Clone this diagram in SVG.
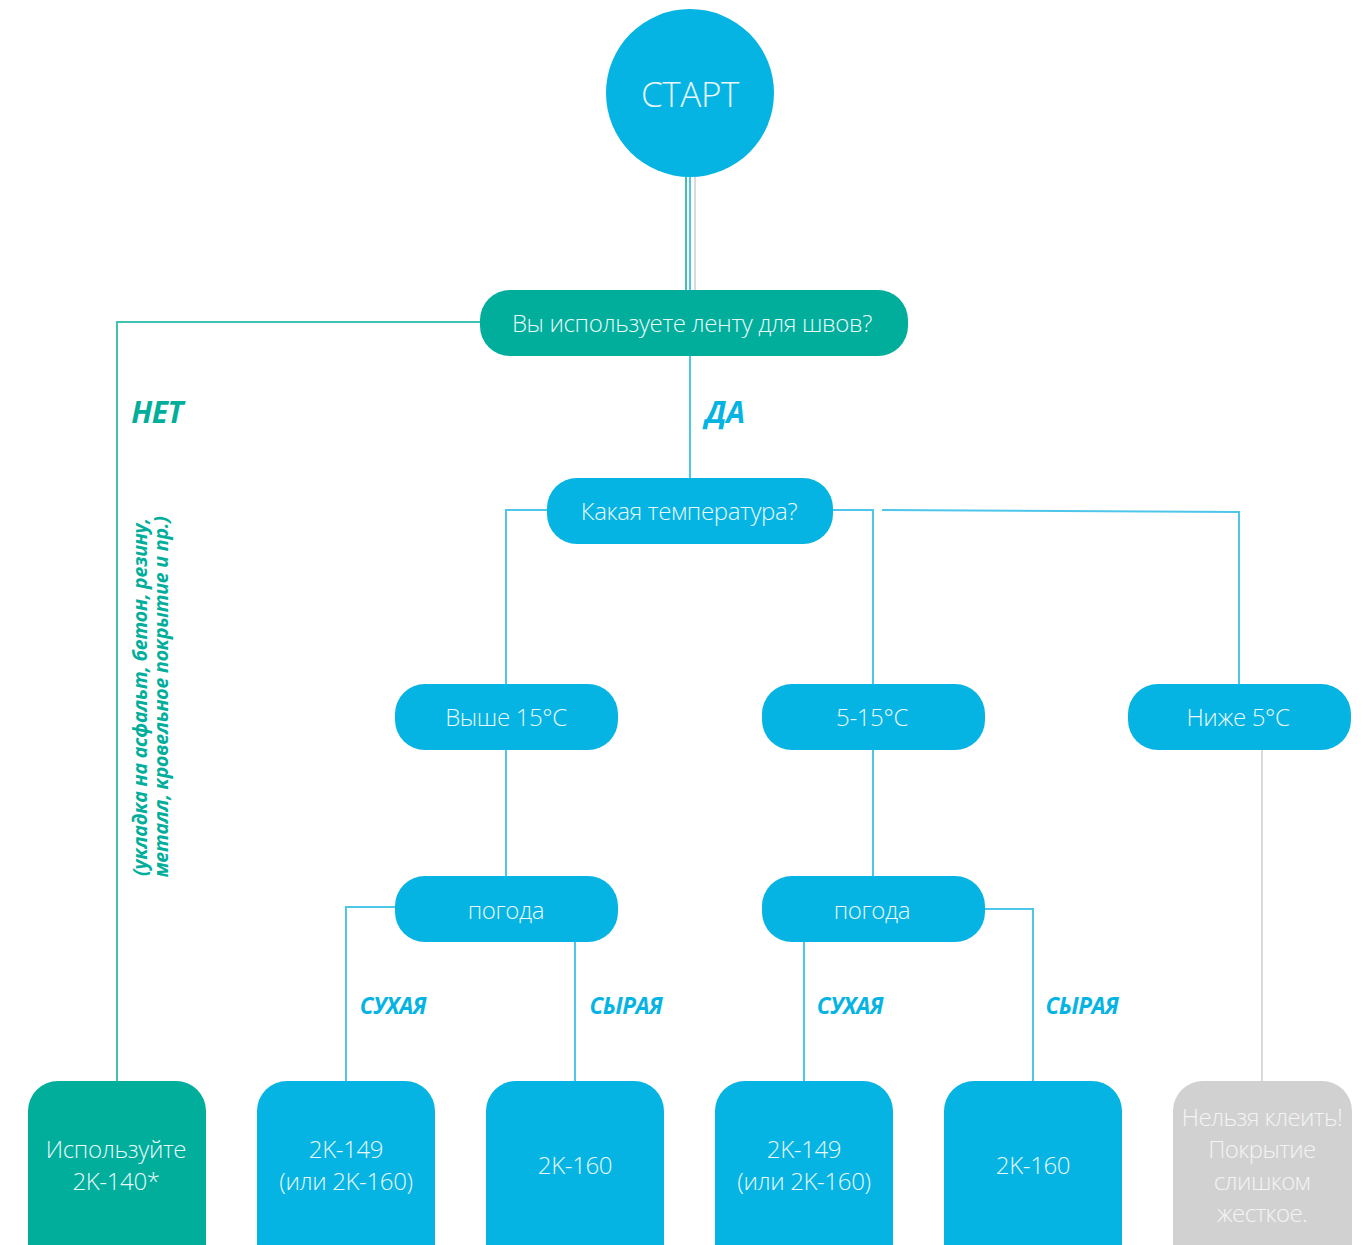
<svg xmlns="http://www.w3.org/2000/svg" width="1363" height="1245" viewBox="0 0 1363 1245">
<style>
.blue{fill:#05b4e3}
.teal{fill:#00ae9b}
.gray{fill:#d1d1d1}
.t{font-family:"Open Sans","Liberation Sans",sans-serif;font-weight:300;fill:#eaf8fc;text-anchor:middle;letter-spacing:-0.35px}
.tg{font-family:"Open Sans","Liberation Sans",sans-serif;font-weight:300;fill:#f4f4f4;text-anchor:middle;letter-spacing:-0.6px}
.lb{font-family:"Open Sans","Liberation Sans",sans-serif;font-weight:700;font-style:italic}
.cb{fill:none;stroke:#4ec6ea;stroke-width:2}
.ct{fill:none;stroke:#3fc2b2;stroke-width:2}
.cg{fill:none;stroke:#dadada;stroke-width:2}
</style>
<rect width="1363" height="1245" fill="#ffffff"/>
<g id="connectors">
<line class="ct" x1="686" y1="176" x2="686" y2="290"/>
<line class="cb" x1="690" y1="176" x2="690" y2="290"/>
<line class="cg" x1="695" y1="176" x2="695" y2="290"/>
<polyline class="ct" points="481,322 117,322 117,1081"/>
<line class="cb" x1="690" y1="355" x2="690" y2="479"/>
<polyline class="cb" points="548,510 506,510 506,685"/>
<polyline class="cb" points="831,510 873,510 873,685"/>
<polyline class="cb" points="882,510 1239,512 1239,685"/>
<line class="cb" x1="506" y1="749" x2="506" y2="877"/>
<line class="cb" x1="873" y1="749" x2="873" y2="877"/>
<line class="cg" x1="1262" y1="749" x2="1262" y2="1081"/>
<polyline class="cb" points="396,907 346,907 346,1081"/>
<line class="cb" x1="575" y1="941" x2="575" y2="1081"/>
<line class="cb" x1="804" y1="941" x2="804" y2="1081"/>
<polyline class="cb" points="983,909 1033,909 1033,1081"/>
</g>
<g id="labels">
<text class="lb" x="157" y="423" font-size="30" fill="#00ae9b" text-anchor="middle" letter-spacing="-0.5">НЕТ</text>
<text class="lb" x="725" y="423" font-size="30" fill="#05b4e3" text-anchor="middle" letter-spacing="-0.5">ДА</text>
<g transform="translate(147,697) rotate(-90)">
<text class="lb" x="0" y="0" font-size="19.5" fill="#00ae9b" text-anchor="middle" letter-spacing="-0.2">(укладка на асфальт, бетон, резину,</text>
<text class="lb" x="0" y="21" font-size="19.5" fill="#00ae9b" text-anchor="middle" letter-spacing="-0.2">металл, кровельное покрытие и пр.)</text>
</g>
<text class="lb" x="393" y="1014" font-size="22.5" fill="#05b4e3" text-anchor="middle" letter-spacing="-0.5">СУХАЯ</text>
<text class="lb" x="626" y="1014" font-size="22.5" fill="#05b4e3" text-anchor="middle" letter-spacing="-0.5">СЫРАЯ</text>
<text class="lb" x="850" y="1014" font-size="22.5" fill="#05b4e3" text-anchor="middle" letter-spacing="-0.5">СУХАЯ</text>
<text class="lb" x="1082" y="1014" font-size="22.5" fill="#05b4e3" text-anchor="middle" letter-spacing="-0.5">СЫРАЯ</text>
</g>
<g id="start">
<circle class="blue" cx="690" cy="93" r="84"/>
<text class="t" x="690" y="107" font-size="35">СТАРТ</text>
</g>
<g id="q-tape">
<rect class="teal" x="480" y="290" width="428" height="66" rx="30"/>
<text class="t" x="692" y="332" font-size="24">Вы используете ленту для швов?</text>
</g>
<g id="q-temp">
<rect class="blue" x="547" y="478" width="286" height="66" rx="30"/>
<text class="t" x="689" y="520" font-size="24">Какая температура?</text>
</g>
<g id="t-high">
<rect class="blue" x="395" y="684" width="223" height="66" rx="30"/>
<text class="t" x="506" y="726" font-size="24">Выше 15°C</text>
</g>
<g id="t-mid">
<rect class="blue" x="762" y="684" width="223" height="66" rx="30"/>
<text class="t" x="872" y="726" font-size="24">5-15°C</text>
</g>
<g id="t-low">
<rect class="blue" x="1128" y="684" width="223" height="66" rx="30"/>
<text class="t" x="1238" y="726" font-size="24">Ниже 5°C</text>
</g>
<g id="w-1">
<rect class="blue" x="395" y="876" width="223" height="66" rx="30"/>
<text class="t" x="506" y="919" font-size="24">погода</text>
</g>
<g id="w-2">
<rect class="blue" x="762" y="876" width="223" height="66" rx="30"/>
<text class="t" x="872" y="919" font-size="24">погода</text>
</g>
<g id="r-140">
<rect class="teal" x="28" y="1081" width="178" height="200" rx="30"/>
<text class="t" x="116" y="1158" font-size="24">Используйте</text>
<text class="t" x="116" y="1190" font-size="24">2K-140*</text>
</g>
<g id="r-149a">
<rect class="blue" x="257" y="1081" width="178" height="200" rx="30"/>
<text class="t" x="346" y="1158" font-size="24">2K-149</text>
<text class="t" x="346" y="1190" font-size="24">(или 2K-160)</text>
</g>
<g id="r-160a">
<rect class="blue" x="486" y="1081" width="178" height="200" rx="30"/>
<text class="t" x="575" y="1174" font-size="24">2K-160</text>
</g>
<g id="r-149b">
<rect class="blue" x="715" y="1081" width="178" height="200" rx="30"/>
<text class="t" x="804" y="1158" font-size="24">2K-149</text>
<text class="t" x="804" y="1190" font-size="24">(или 2K-160)</text>
</g>
<g id="r-160b">
<rect class="blue" x="944" y="1081" width="178" height="200" rx="30"/>
<text class="t" x="1033" y="1174" font-size="24">2K-160</text>
</g>
<g id="r-none">
<rect class="gray" x="1173" y="1081" width="179" height="200" rx="30"/>
<text class="tg" x="1262" y="1126" font-size="24">Нельзя клеить!</text>
<text class="tg" x="1262" y="1158" font-size="24">Покрытие</text>
<text class="tg" x="1262" y="1190" font-size="24">слишком</text>
<text class="tg" x="1262" y="1222" font-size="24">жесткое.</text>
</g>
</svg>
